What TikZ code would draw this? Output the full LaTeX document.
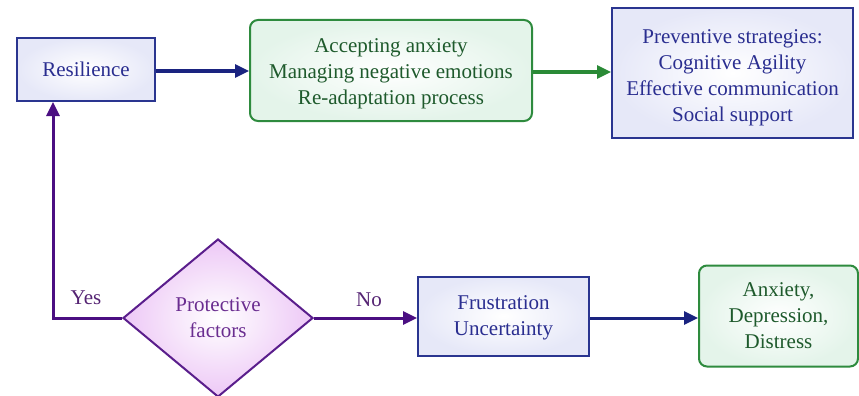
\documentclass[tikz,border=0pt]{standalone}
\usepackage{fontspec}
\setmainfont{Liberation Serif}
\usetikzlibrary{shapes.geometric,arrows.meta}
\definecolor{bluebd}{HTML}{2A3590}
\definecolor{bluetx}{HTML}{2A2E90}
\definecolor{bluefl}{HTML}{E6E8F8}
\definecolor{greenbd}{HTML}{2E8B3E}
\definecolor{greentx}{HTML}{1E5A2C}
\definecolor{greenfl}{HTML}{E4F4EA}
\definecolor{purpbd}{HTML}{5A1E8C}
\definecolor{purptx}{HTML}{6A2D90}
\definecolor{purpfl}{HTML}{EDC8F6}
\definecolor{navyln}{HTML}{1A2380}
\definecolor{greenln}{HTML}{2A8A36}
\definecolor{purpln}{HTML}{4B0F82}
\newcommand{\dropby}[1]{\rule{0pt}{\dimexpr 14.5pt+#1\relax}}
\tikzset{
  txt/.style={font=\fontsize{21}{26}\selectfont, align=center, inner sep=0pt},
  bluebox/.style={txt, draw=bluebd, line width=2pt, text=bluetx, inner color=white, outer color=bluefl},
  greenbox/.style={txt, draw=greenbd, line width=2pt, rounded corners=8pt, text=greentx, inner color=white, outer color=greenfl},
  decision/.style={txt, diamond, draw=purpbd, line width=2pt, text=purptx, inner color=white, outer color=purpfl},
  conn/.style={line width=3pt, -{Triangle[length=14pt,width=13pt]}},
  lbl/.style={font=\fontsize{21}{24}\selectfont, inner sep=0pt}
}
\begin{document}
\begin{tikzpicture}[x=1pt,y=-1pt]
\useasboundingbox (0,0) rectangle (859,396);
\node[bluebox, minimum width=138pt, minimum height=63pt] (res) at (86,69.5) {Resilience};
\node[greenbox, minimum width=282pt, minimum height=101pt] (acc) at (391,70.5) {\dropby{6pt}Accepting anxiety\\Managing negative emotions\\Re-adaptation process};
\node[bluebox, minimum width=241pt, minimum height=130pt] (prev) at (732.5,73) {\dropby{8pt}Preventive strategies:\\Cognitive Agility\\Effective communication\\Social support};
\node[decision, minimum width=190pt, minimum height=158pt] (prot) at (218,318) {Protective\\factors};
\node[bluebox, minimum width=171pt, minimum height=79pt] (frus) at (503.5,316) {\dropby{4pt}Frustration\\Uncertainty};
\node[greenbox, minimum width=159pt, minimum height=101pt] (anx) at (778.5,316) {Anxiety,\\Depression,\\Distress};
\coordinate (corner) at (53,318);
\draw[conn, navyln] (res.east |- 0,71) -- (acc.west |- 0,71);
\draw[conn, greenln] (acc.east |- 0,72) -- (prev.west |- 0,72);
\draw[conn, purpln] (prot.west) -- (corner) -- (corner |- res.south);
\draw[conn, purpln] (prot.east) -- (prot.east -| frus.west);
\draw[conn, navyln] (frus.east |- prot.east) -- (anx.west |- prot.east);
\node[lbl, text=purptx!80!black] (yes) at (86,298) {Yes};
\node[lbl, text=purptx!80!black] (no) at (369,300) {No};
\end{tikzpicture}
\end{document}
